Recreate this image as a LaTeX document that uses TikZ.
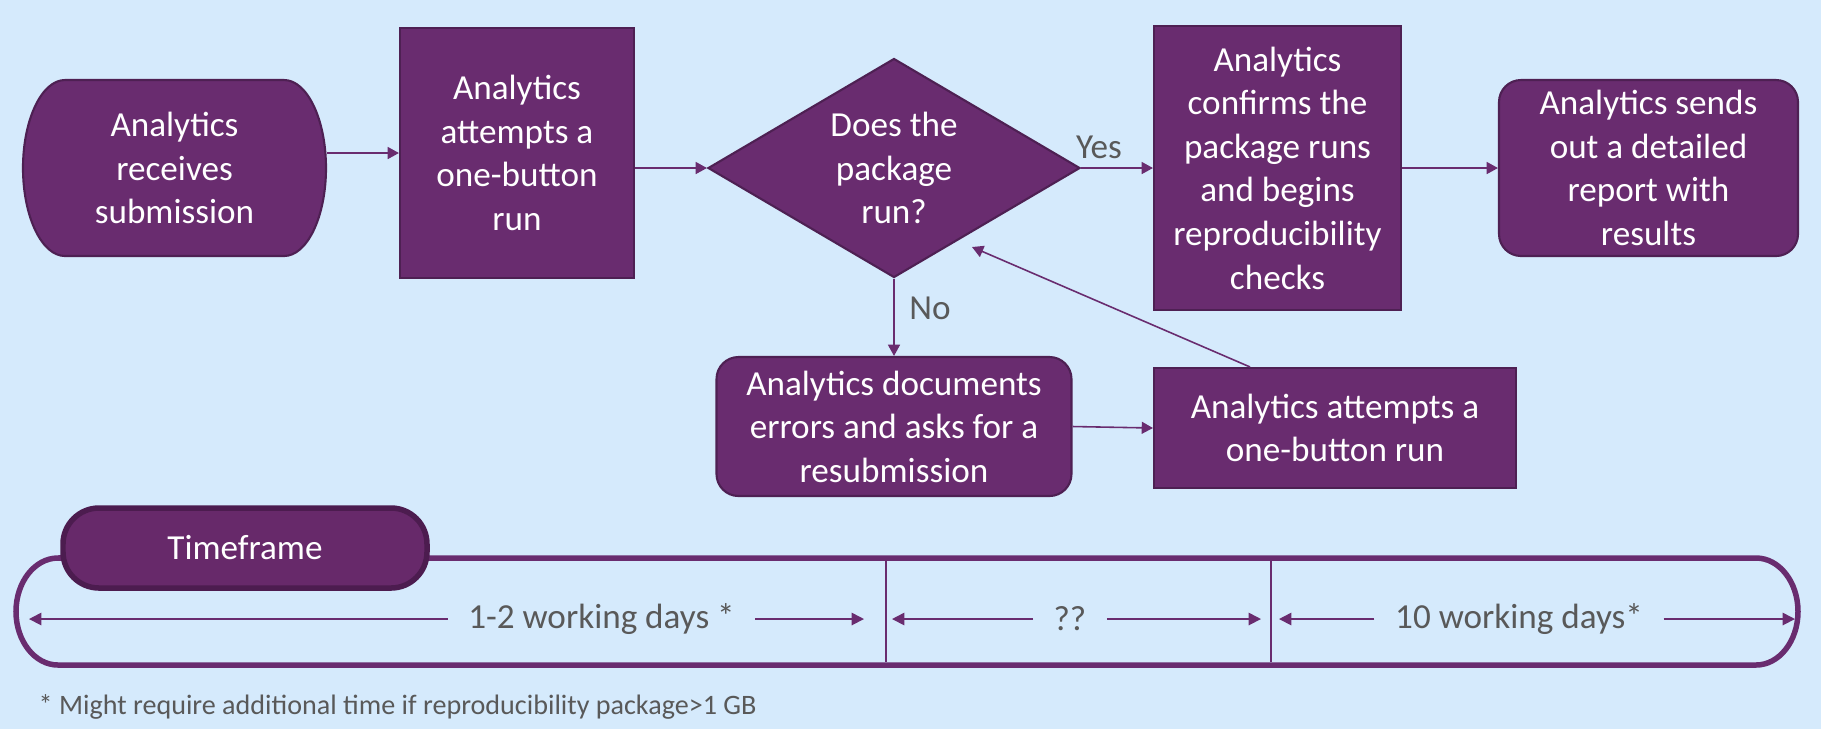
\documentclass[tikz,border=0pt]{standalone}
\usepackage{fontspec}
\setmainfont{Carlito}
\usepackage{xcolor}
\usepackage{tikz}
\usetikzlibrary{arrows.meta,shapes.geometric}

\definecolor{flowpurple}{HTML}{692C6F}
\definecolor{edgepurple}{HTML}{4E2053}
\definecolor{tabpurple}{HTML}{67296A}
\definecolor{tabedge}{HTML}{4C1C4F}
\definecolor{skyblue}{HTML}{D5EAFC}
\definecolor{labelgray}{HTML}{595959}

\tikzset{
  boxtext/.style={text=white, align=center, font=\fontsize{10}{12.4}\selectfont, inner sep=0pt},
  procbox/.style={boxtext, draw=edgepurple, fill=flowpurple, line width=0.6pt},
  roundbox/.style={procbox, rounded corners=0.22cm},
  decision/.style={procbox, diamond, aspect=1.7},
  flowarrow/.style={flowpurple, line width=0.45pt, -{Triangle[length=3.2pt,width=3.4pt]}},
  spanarrow/.style={flowpurple, line width=0.5pt, -{Triangle[length=3.5pt,width=3.5pt]}},
  spantext/.style={text=labelgray, font=\fontsize{10}{12}\selectfont, inner xsep=0.2cm},
  answer/.style={text=labelgray, font=\fontsize{10}{12}\selectfont}
}

\begin{document}
\begin{tikzpicture}

\useasboundingbox (0,0) rectangle (18.21,-7.29);
\fill[skyblue] (0,0) rectangle (18.21,-7.29);

\filldraw[draw=edgepurple, fill=flowpurple, line width=0.6pt]
(0.65,-0.80) -- (2.84,-0.80) arc[start angle=90, end angle=-90, x radius=0.42, y radius=0.88]
-- (0.65,-2.56) arc[start angle=270, end angle=90, x radius=0.42, y radius=0.88] -- cycle;
\node[boxtext, minimum width=3.03cm, minimum height=1.76cm] (recv) at (1.745,-1.68) {Analytics\\receives\\submission};

\node[procbox, minimum width=2.34cm, minimum height=2.50cm] (try1) at (5.17,-1.53) {Analytics\\attempts a\\one-button\\run};
\node[decision, minimum width=3.72cm, minimum height=2.19cm] (check) at (8.94,-1.68) {Does the\\package\\run?};
\node[procbox, minimum width=2.47cm, minimum height=2.84cm] (conf) at (12.775,-1.68) {Analytics\\confirms the\\package runs\\and begins\\reproducibility\\checks};
\node[roundbox, minimum width=2.99cm, minimum height=1.76cm] (report) at (16.485,-1.68) {Analytics sends\\out a detailed\\report with\\results};
\node[roundbox, minimum width=3.55cm, minimum height=1.39cm] (errs) at (8.94,-4.265) {Analytics documents\\errors and asks for a\\resubmission};
\node[procbox, minimum width=3.62cm, minimum height=1.20cm] (retry) at (13.35,-4.28) {Analytics attempts a\\one-button run};

\node[answer] (yes) at (10.99,-1.47) {Yes};
\node[answer] (no) at (9.30,-3.08) {No};
\coordinate (backtip) at (9.72,-2.47);

\draw[flowarrow] (recv.east |- try1.west) -- (try1.west);
\draw[flowarrow] (try1.east |- check.west) -- (check.west);
\draw[flowarrow] (check.east) -- (conf.west);
\draw[flowarrow] (conf.east) -- (report.west);
\draw[flowarrow] (check.south) -- (errs.north);
\draw[flowarrow] (errs.east) -- (retry.west);
\draw[flowarrow] ([xshift=-0.85cm]retry.north) -- (backtip);

\draw[flowpurple, line width=0.055cm]
(0.58,-5.58) -- (17.56,-5.58) arc[start angle=90, end angle=-90, x radius=0.42, y radius=0.535]
-- (0.58,-6.65) arc[start angle=270, end angle=90, x radius=0.42, y radius=0.535] -- cycle;
\draw[flowpurple, line width=0.4pt] (8.86,-5.61) -- (8.86,-6.62) (12.71,-5.61) -- (12.71,-6.62);
\node[procbox, draw=tabedge, fill=tabpurple, line width=0.055cm, rounded corners=0.36cm,
  minimum width=3.64cm, minimum height=0.80cm] (tframe) at (2.45,-5.48) {Timeframe};

\node[spantext] (span1) at (6.015,-6.19) {1-2 working days *};
\node[spantext] (span2) at (10.70,-6.19) {??};
\node[spantext] (span3) at (15.19,-6.19) {10 working days*};
\coordinate (s1l) at (0.29,-6.19);
\coordinate (s1r) at (8.64,-6.19);
\coordinate (s2l) at (8.92,-6.19);
\coordinate (s2r) at (12.61,-6.19);
\coordinate (s3l) at (12.79,-6.19);
\coordinate (s3r) at (17.95,-6.19);
\draw[spanarrow] (span1.west) -- (s1l);
\draw[spanarrow] (span1.east) -- (s1r);
\draw[spanarrow] (span2.west) -- (s2l);
\draw[spanarrow] (span2.east) -- (s2r);
\draw[spanarrow] (span3.west) -- (s3l);
\draw[spanarrow] (span3.east) -- (s3r);

\node[anchor=west, inner sep=0pt, text=labelgray, font=\fontsize{8}{10}\selectfont] (note) at (0.38,-7.07) {* Might require additional time if reproducibility package>1 GB};

\end{tikzpicture}
\end{document}
